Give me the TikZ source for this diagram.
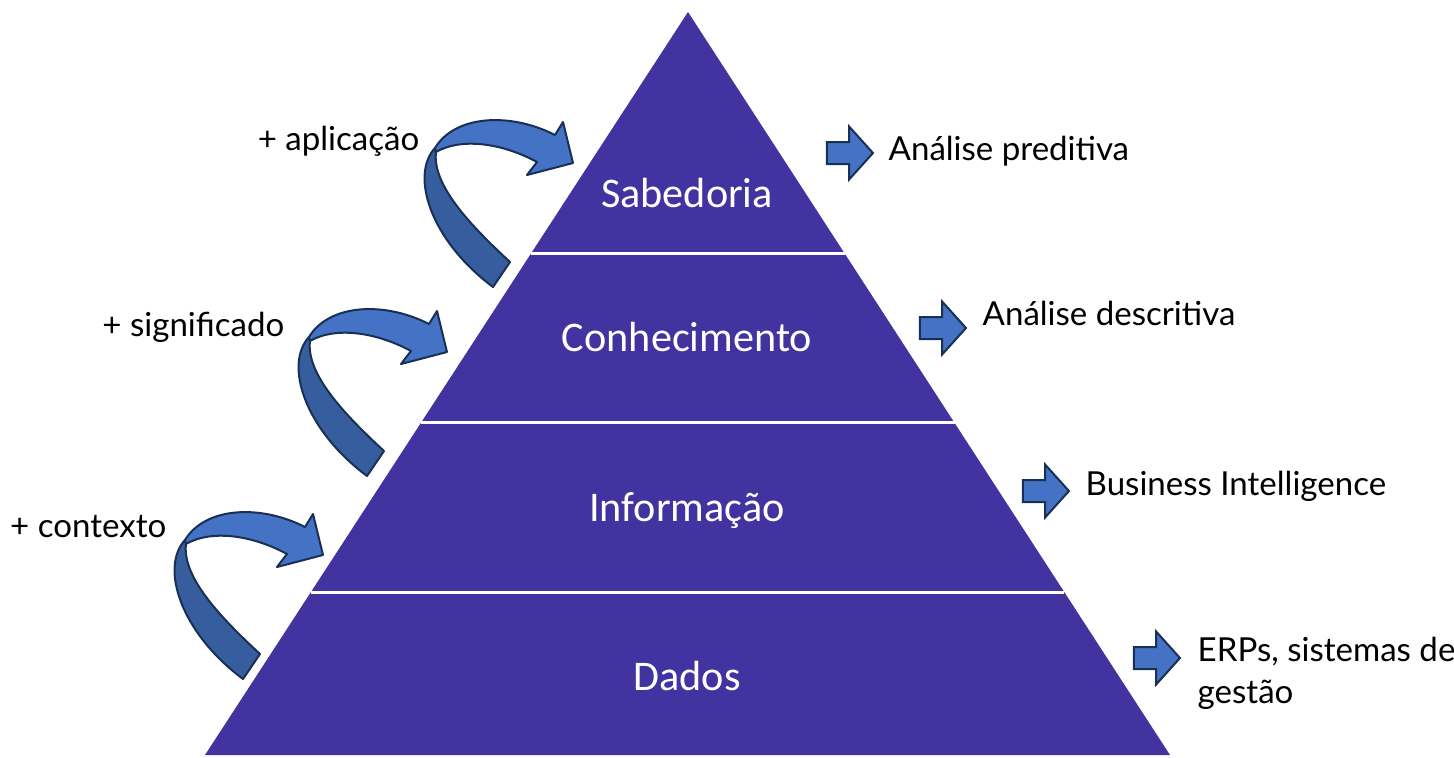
\documentclass[tikz,border=0pt]{standalone}
\usepackage{fontspec}
\setmainfont{Lato}
\newfontfamily\levelfont{Carlito}
\usetikzlibrary{positioning,calc,shapes.arrows}
\definecolor{pyramid}{RGB}{66,51,160}
\definecolor{arrowblue}{RGB}{68,114,196}
\definecolor{arrowdark}{RGB}{54,94,158}
\definecolor{arrowline}{RGB}{26,47,84}

% bent ribbon arrow, drawn at the top level and shifted for the others
\newcommand{\bentarrow}[1]{%
  \begin{scope}[shift={#1}]
    % back of the ribbon
    \filldraw[fill=arrowdark, draw=arrowline, line width=0.02cm, line join=round]
      (435,148) .. controls (410,175) and (430,240) .. (493,287)
      -- (510,262) .. controls (470,225) and (432,185) .. (436,152) -- cycle;
    % front of the ribbon with the head
    \filldraw[fill=arrowblue, draw=arrowline, line width=0.02cm, line join=round]
      (435,148) .. controls (455,115) and (510,112) .. (555,135)
      -- (563,122) -- (573,163) -- (527,175) -- (537,162)
      .. controls (500,142) and (460,138) .. (436,152) -- cycle;
  \end{scope}}

\begin{document}
\begin{tikzpicture}[x=0.01cm, y=-0.01cm,
    level/.style={font=\levelfont\fontsize{12}{14}\selectfont, text=white, anchor=base},
    note/.style={font=\fontsize{9.4}{11.7}\selectfont, anchor=base west, inner sep=0pt},
    gain/.style={font=\fontsize{9.4}{11.7}\selectfont, anchor=base east, inner sep=0pt},
    blockarrow/.style={single arrow, draw=arrowline, fill=arrowblue, line width=0.02cm,
        minimum height=0.46cm, inner xsep=0pt, inner ysep=0.1cm,
        single arrow head extend=0.155cm, single arrow tip angle=96}
  ]
  \useasboundingbox (0,0) rectangle (1454,757);

  % Pyramid
  \coordinate (apex) at (688,12);
  \coordinate (bl) at (205,755);
  \coordinate (br) at (1170,755);
  \fill[pyramid] (apex) -- (br) -- (bl) -- cycle;

  % white gaps between the levels
  \draw[white, line width=0.03cm] ($(apex)!0.325!(bl)$) -- ($(apex)!0.325!(br)$);
  \draw[white, line width=0.03cm] ($(apex)!0.553!(bl)$) -- ($(apex)!0.553!(br)$);
  \draw[white, line width=0.03cm] ($(apex)!0.781!(bl)$) -- ($(apex)!0.781!(br)$);

  % Levels
  \node[level] (sabedoria) at (687,207) {Sabedoria};
  \node[level] (conhecimento) at (687,351) {Conhecimento};
  \node[level] (informacao) at (687,521) {Informação};
  \node[level] (dados) at (687,690) {Dados};

  % Arrows on the right
  \node[blockarrow] (a1) at (845,153) {};
  \node[blockarrow] (a2) at (938,328) {};
  \node[blockarrow] (a3) at (1041,491) {};
  \node[blockarrow] (a4) at (1152,658) {};

  \node[note] (preditiva) at (888,160) {Análise preditiva};
  \node[note] (descritiva) at (982,325) {Análise descritiva};
  \node[note] (bi) at (1085,495) {Business Intelligence};
  \node[note, align=left] (erp) at (1197,703) {ERPs, sistemas de\\gestão};

  % Bent arrows on the left
  \bentarrow{(0,0)}
  \bentarrow{(-126,189)}
  \bentarrow{(-250,392)}

  \node[gain] (aplicacao) at (420,150) {+ aplicação};
  \node[gain] (significado) at (285,336) {+ significado};
  \node[gain] (contexto) at (167,537) {+ contexto};

\end{tikzpicture}
\end{document}
